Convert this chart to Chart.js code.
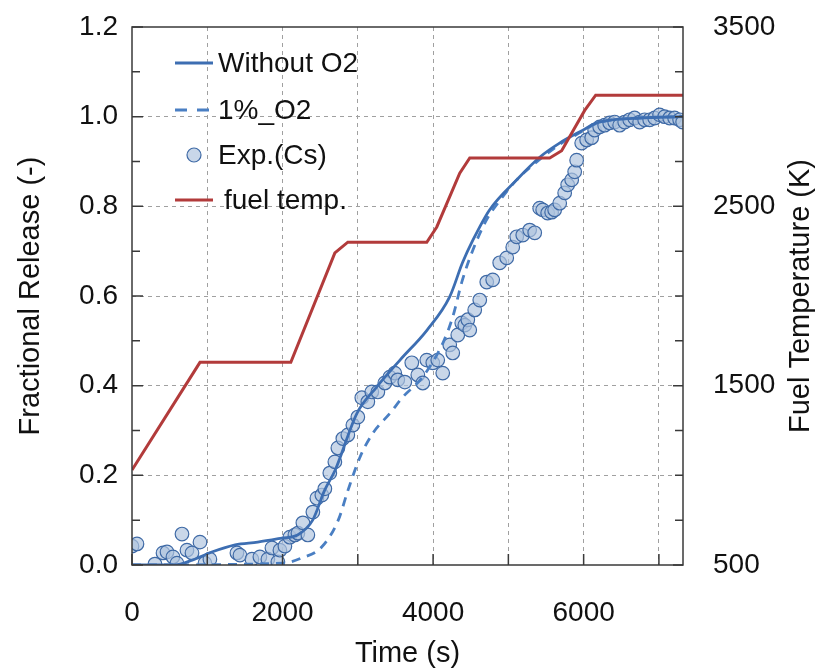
<!DOCTYPE html>
<html>
<head>
<meta charset="utf-8">
<script src="https://cdn.jsdelivr.net/npm/chart.js@4.4.1/dist/chart.umd.min.js"></script>
<style>
  html, body { margin: 0; padding: 0; background: #fff; }
  canvas { display: block; }
</style>
</head>
<body>
<canvas id="myChart" width="815" height="668"></canvas>
<script>
// fuel temperature history (K)
const timeFuel = [0, 903, 2110, 2695, 2867, 3916, 4049, 4354, 4487, 5549, 5708, 6014, 6160, 7320];
const tempFuel = [1030, 1630, 1630, 2240, 2300, 2300, 2385, 2685, 2770, 2770, 2810, 3035, 3120, 3120];

// calculation without O2
const timeWithout = [0, 570, 800, 1060, 1370, 1670, 1990, 2200, 2400, 2560, 2700, 2990, 3250, 3560, 3920, 4220, 4390, 4530, 4750, 5110, 5420, 5680, 5990, 6170, 6740, 7320];
const releaseWithout = [0, 0, 0.011, 0.029, 0.045, 0.051, 0.060, 0.067, 0.100, 0.167, 0.212, 0.339, 0.397, 0.457, 0.524, 0.598, 0.674, 0.725, 0.792, 0.859, 0.910, 0.941, 0.970, 0.986, 0.997, 1.0];

// calculation with 1% O2
const timeO2 = [0, 2000, 2260, 2520, 2740, 2870, 3030, 3200, 3430, 3600, 3860, 4130, 4260, 4390, 4530, 4710, 4890, 5110, 5420, 5680, 5990, 6170, 6740, 7320];
const releaseO2 = [0, 0.004, 0.016, 0.040, 0.100, 0.167, 0.241, 0.294, 0.339, 0.375, 0.419, 0.495, 0.553, 0.636, 0.703, 0.770, 0.814, 0.859, 0.905, 0.938, 0.968, 0.985, 0.997, 1.0];

// experiment (Cs)
const timeExp = [0, 66, 305, 412, 465, 544, 597, 664, 730, 797, 903, 969, 1035, 1394, 1434, 1593, 1699, 1805, 1859, 1938, 1965, 2031, 2097, 2164, 2204, 2270, 2336, 2403, 2456, 2522, 2562, 2628, 2695, 2735, 2801, 2867, 2934, 3000, 3053, 3133, 3186, 3266, 3359, 3425, 3491, 3531, 3624, 3717, 3797, 3863, 3916, 3996, 4062, 4128, 4221, 4261, 4328, 4381, 4421, 4461, 4487, 4553, 4620, 4713, 4792, 4885, 4978, 5058, 5111, 5191, 5283, 5350, 5416, 5456, 5522, 5575, 5615, 5682, 5748, 5788, 5841, 5881, 5907, 5974, 6040, 6107, 6146, 6213, 6279, 6346, 6412, 6478, 6545, 6611, 6677, 6744, 6810, 6877, 6943, 7009, 7076, 7142, 7208, 7275, 7315];
const releaseExp = [0.042, 0.047, 0.002, 0.027, 0.029, 0.018, 0.004, 0.069, 0.033, 0.027, 0.051, 0.004, 0.013, 0.027, 0.022, 0.013, 0.018, 0.013, 0.038, 0.007, 0.033, 0.042, 0.062, 0.067, 0.071, 0.094, 0.067, 0.118, 0.149, 0.156, 0.170, 0.205, 0.230, 0.261, 0.282, 0.290, 0.312, 0.330, 0.373, 0.364, 0.386, 0.386, 0.406, 0.419, 0.428, 0.413, 0.408, 0.451, 0.424, 0.406, 0.457, 0.451, 0.457, 0.428, 0.491, 0.473, 0.513, 0.540, 0.535, 0.547, 0.524, 0.569, 0.591, 0.631, 0.636, 0.674, 0.685, 0.709, 0.732, 0.736, 0.747, 0.741, 0.796, 0.792, 0.785, 0.787, 0.792, 0.807, 0.830, 0.848, 0.859, 0.877, 0.903, 0.941, 0.948, 0.953, 0.970, 0.977, 0.981, 0.986, 0.988, 0.981, 0.988, 0.993, 0.997, 0.988, 0.993, 0.993, 0.997, 1.004, 1.0, 0.997, 0.997, 0.993, 0.988];

const xTickValues = [0, 1000, 2000, 3000, 4000, 5000, 6000, 7000];
const xLabels = [0, 2000, 4000, 6000];
const leftLabels = [0, 0.2, 0.4, 0.6, 0.8, 1.0, 1.2];
const rightLabels = [500, 1500, 2500, 3500];

const legendText = ["Without O2", "1%_O2", "Exp.(Cs)", "fuel temp."];

const fontFamily = "'Liberation Sans', Arial, sans-serif";
const gridGray = "#a0a0a0";

const toPoints = (xs, ys) => xs.map((x, i) => ({ x: x, y: ys[i] }));
const near = (list, v, eps) => list.some((l) => Math.abs(l - v) < eps);

Chart.defaults.font.family = fontFamily;
Chart.defaults.color = "#111";

// inward tick marks, plot frame, legend and right axis title
const decorations = {
  id: "decorations",
  afterDraw(chart) {
    const { ctx, chartArea: a, scales } = chart;
    ctx.save();
    ctx.strokeStyle = "#3a3a3a";
    ctx.lineWidth = 1.5;
    ctx.beginPath();
    scales.x.ticks.forEach((t) => {
      const px = scales.x.getPixelForValue(t.value);
      ctx.moveTo(px, a.bottom);
      ctx.lineTo(px, a.bottom - 11);
    });
    scales.y.ticks.forEach((t) => {
      const py = scales.y.getPixelForValue(t.value);
      const len = t.label ? 11 : 8;
      ctx.moveTo(a.left, py);
      ctx.lineTo(a.left + len, py);
    });
    scales.y2.ticks.forEach((t) => {
      const py = scales.y2.getPixelForValue(t.value);
      const len = t.label ? 10 : 8;
      ctx.moveTo(a.right, py);
      ctx.lineTo(a.right - len, py);
    });
    ctx.stroke();
    ctx.strokeRect(a.left, a.top, a.right - a.left, a.bottom - a.top);

    // legend
    const rows = [63, 110, 155, 200];
    const textX = [218, 218, 218, 224];
    const order = [1, 2, 3, 0];
    ctx.font = "28px " + fontFamily;
    ctx.textBaseline = "middle";
    ctx.textAlign = "left";
    order.forEach((di, i) => {
      const ds = chart.data.datasets[di];
      const y = rows[i];
      if (ds.type === "scatter") {
        ctx.beginPath();
        ctx.arc(194, y, 7, 0, Math.PI * 2);
        ctx.fillStyle = ds.backgroundColor;
        ctx.fill();
        ctx.lineWidth = ds.borderWidth;
        ctx.strokeStyle = ds.borderColor;
        ctx.stroke();
      } else {
        ctx.beginPath();
        ctx.setLineDash(ds.borderDash ? [12, 10] : []);
        ctx.lineWidth = ds.borderWidth;
        ctx.strokeStyle = ds.borderColor;
        ctx.moveTo(175, y);
        ctx.lineTo(213, y);
        ctx.stroke();
        ctx.setLineDash([]);
      }
      ctx.fillStyle = "#111";
      ctx.fillText(legendText[i], textX[i], y + 1);
    });

    // right axis title, reading bottom to top
    ctx.translate(801, (a.top + a.bottom) / 2);
    ctx.rotate(-Math.PI / 2);
    ctx.textAlign = "center";
    ctx.font = "29px " + fontFamily;
    ctx.fillText("Fuel Temperature (K)", 0, 0);
    ctx.restore();
  },
};

const ctx = document.getElementById("myChart").getContext("2d");

const data = {
  datasets: [
    {
      label: "fuel temp.",
      type: "line",
      data: toPoints(timeFuel, tempFuel),
      yAxisID: "y2",
      borderColor: "#b23b3b",
      borderWidth: 3,
      pointRadius: 0,
      tension: 0,
      order: 0,
    },
    {
      label: "Without O2",
      type: "line",
      data: toPoints(timeWithout, releaseWithout),
      yAxisID: "y",
      borderColor: "#3d6eb2",
      borderWidth: 2.8,
      pointRadius: 0,
      cubicInterpolationMode: "monotone",
      order: 1,
    },
    {
      label: "1%_O2",
      type: "line",
      data: toPoints(timeO2, releaseO2),
      yAxisID: "y",
      borderColor: "#4a7fc3",
      borderWidth: 2.8,
      borderDash: [9, 7],
      pointRadius: 0,
      cubicInterpolationMode: "monotone",
      order: 2,
    },
    {
      label: "Exp.(Cs)",
      type: "scatter",
      data: toPoints(timeExp, releaseExp),
      yAxisID: "y",
      backgroundColor: "rgba(176, 196, 222, 0.68)",
      borderColor: "#3f6aa6",
      borderWidth: 1.2,
      pointRadius: 6.8,
      order: 3,
    },
  ],
};

const config = {
  type: "line",
  data: data,
  options: {
    responsive: false,
    animation: false,
    layout: { padding: { top: 27, right: 0, bottom: 0, left: 0 } },
    plugins: {
      legend: { display: false },
      tooltip: { enabled: false },
    },
    scales: {
      x: {
        type: "linear",
        min: 0,
        max: 7320,
        afterBuildTicks: (s) => {
          s.ticks = xTickValues.map((v) => ({ value: v }));
        },
        afterFit: (s) => {
          s.height = 103;
          s.paddingLeft = 0;
          s.paddingRight = 0;
        },
        ticks: {
          autoSkip: false,
          maxRotation: 0,
          padding: 34,
          font: { size: 28, lineHeight: 1 },
          callback: (v) => (near(xLabels, v, 1) ? String(v) : ""),
        },
        grid: {
          drawTicks: false,
          lineWidth: 1,
          color: (c) => (c.tick && c.tick.value > 0 ? gridGray : "transparent"),
        },
        border: { display: false, dash: [4, 4] },
        title: {
          display: true,
          text: "Time (s)",
          font: { size: 29, lineHeight: 1 },
          padding: { top: 0, bottom: 0 },
        },
      },
      y: {
        position: "left",
        min: 0,
        max: 1.2,
        afterFit: (s) => {
          s.width = 132;
          s.paddingTop = 0;
          s.paddingBottom = 0;
        },
        ticks: {
          stepSize: 0.1,
          autoSkip: false,
          padding: 14,
          font: { size: 28 },
          callback: (v) => (near(leftLabels, v, 0.01) ? v.toFixed(1) : ""),
        },
        grid: {
          drawTicks: false,
          lineWidth: 1,
          color: (c) => {
            if (!c.tick) return "transparent";
            const v = c.tick.value;
            return v > 0.01 && v < 1.19 && near(leftLabels, v, 0.01) ? gridGray : "transparent";
          },
        },
        border: { display: false, dash: [4, 4] },
        title: {
          display: true,
          text: "Fractional Release (-)",
          font: { size: 29, lineHeight: 1 },
          padding: { top: 16, bottom: 0 },
        },
      },
      y2: {
        position: "right",
        min: 500,
        max: 3500,
        afterFit: (s) => {
          s.width = 132;
          s.paddingTop = 0;
          s.paddingBottom = 0;
        },
        ticks: {
          stepSize: 250,
          autoSkip: false,
          padding: 30,
          font: { size: 28 },
          callback: (v) => (near(rightLabels, v, 1) ? String(v) : ""),
        },
        grid: { drawOnChartArea: false, drawTicks: false },
        border: { display: false },
      },
    },
  },
  plugins: [decorations],
};

const myChart = new Chart(ctx, config);
</script>
</body>
</html>
